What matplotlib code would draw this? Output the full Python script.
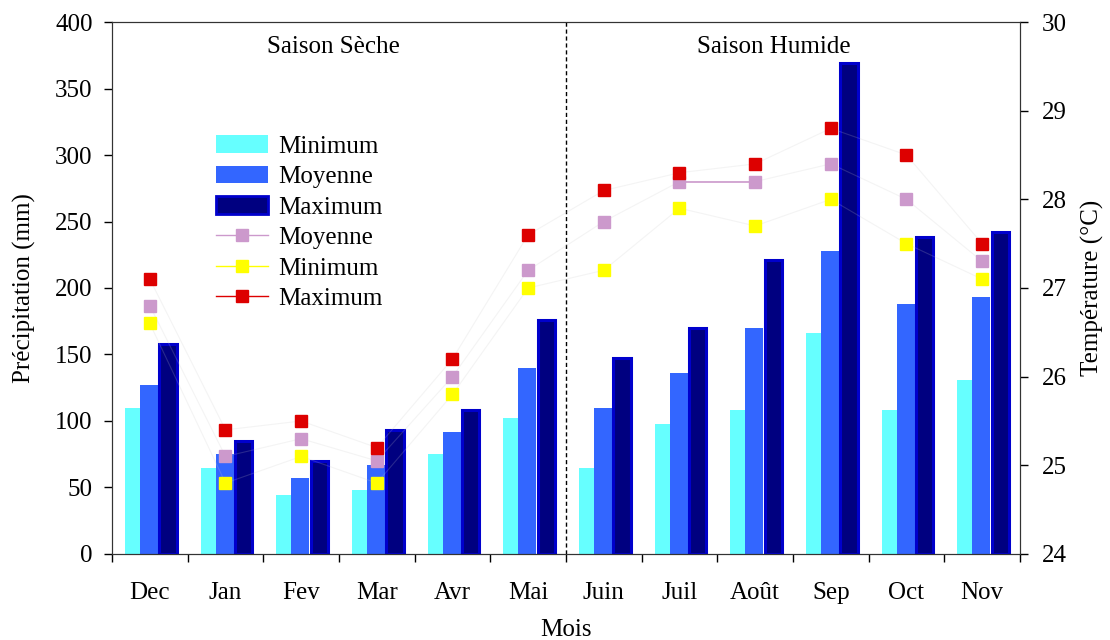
"""Précipitations et températures mensuelles (min / moy / max)."""
import matplotlib
matplotlib.use('Agg')
import matplotlib.pyplot as plt
from matplotlib.patches import Patch
from matplotlib.lines import Line2D

plt.rcParams['font.family'] = ['Liberation Serif', 'DejaVu Serif']

MOIS = ['Dec', 'Jan', 'Fev', 'Mar', 'Avr', 'Mai',
        'Juin', 'Juil', 'Août', 'Sep', 'Oct', 'Nov']

# précipitations (mm)
pluie_min = [110, 65, 44, 48, 75, 102, 65, 98, 108, 166, 108, 131]
pluie_moy = [127, 75, 57, 67, 92, 140, 110, 136, 170, 228, 188, 193]
pluie_max = [158, 85, 70, 93, 108, 176, 147, 170, 221, 369, 238, 242]

# températures (°C)
temp_moy = [26.8, 25.1, 25.3, 25.05, 26.0, 27.2, 27.75, 28.2, 28.2, 28.4, 28.0, 27.3]
temp_min = [26.6, 24.8, 25.1, 24.8, 25.8, 27.0, 27.2, 27.9, 27.7, 28.0, 27.5, 27.1]
temp_max = [27.1, 25.4, 25.5, 25.2, 26.2, 27.6, 28.1, 28.3, 28.4, 28.8, 28.5, 27.5]

C_MIN = '#66FFFF'
C_MOY = '#3366FF'
C_MAX = '#000080'
C_MAX_EDGE = '#0000CC'
T_MOY = '#CC99CC'
T_MIN = '#FFFF00'
T_MAX = '#DD0000'
FS = 18

fig = plt.figure(figsize=(11.1, 6.4), dpi=100)
ax = fig.add_axes([0.1009, 0.1344, 0.8180, 0.8312])
x = list(range(len(MOIS)))

ax.bar([i - 0.33 for i in x], pluie_min, width=0.20, align='edge',
       color=C_MIN, lw=0, zorder=2)
ax.bar([i - 0.13 for i in x], pluie_moy, width=0.24, align='edge',
       color=C_MOY, lw=0, zorder=2)
ax.bar([i + 0.125 for i in x], pluie_max, width=0.23, align='edge',
       color=C_MAX, edgecolor=C_MAX_EDGE, lw=2.2, zorder=2)

ax.set_xlim(-0.5, len(MOIS) - 0.5)
ax.set_ylim(0, 400)
ax.set_yticks(range(0, 401, 50))
ax.set_xticks([i + 0.5 for i in range(-1, len(MOIS))])
ax.set_xticklabels([])
ax.set_xticks(x, minor=True)
ax.set_xticklabels(MOIS, minor=True)
ax.tick_params(axis='x', which='major', direction='out', length=6, width=1)
ax.tick_params(axis='x', which='minor', length=0, pad=20, labelsize=FS)
ax.tick_params(axis='y', direction='out', length=6, width=1, pad=8,
               labelsize=FS)
ax.set_ylabel('Précipitation (mm)', fontsize=FS, labelpad=14)
ax.set_xlabel('Mois', fontsize=FS, labelpad=11)
for s in ax.spines.values():
    s.set_color('#333333')

ax.axvline(5.5, color='black', ls=(0, (3, 2)), lw=1, zorder=3)
trans = ax.get_xaxis_transform()
ax.text(2.42, 0.953, 'Saison Sèche', transform=trans, ha='center',
        va='center', fontsize=FS)
ax.text(8.25, 0.953, 'Saison Humide', transform=trans, ha='center',
        va='center', fontsize=FS)

ax2 = ax.twinx()
ax2.set_ylim(24, 30)
ax2.set_yticks(range(24, 31))
ax2.tick_params(axis='y', direction='out', length=6, width=1, pad=10,
                labelsize=FS)
ax2.set_ylabel('Température (°C)', fontsize=FS, labelpad=10)
for s in ax2.spines.values():
    s.set_color('#333333')

# lignes reliant les marqueurs : presque invisibles
for serie in (temp_moy, temp_min, temp_max):
    ax2.plot(x, serie, color='#c8c8c8', alpha=0.2, lw=0.8, zorder=1)
ax2.plot(x[7:9], temp_moy[7:9], color=T_MOY, lw=1.2, zorder=2)
for serie, c in ((temp_moy, T_MOY), (temp_min, T_MIN), (temp_max, T_MAX)):
    ax2.plot(x, serie, ls='none', marker='s', ms=8, mfc=c, mec=c, zorder=4)

handles = [
    Patch(facecolor=C_MIN, lw=0),
    Patch(facecolor=C_MOY, lw=0),
    Patch(facecolor=C_MAX, edgecolor=C_MAX_EDGE, lw=2),
    Line2D([], [], color=T_MOY, marker='s', ms=8, lw=1),
    Line2D([], [], color=T_MIN, marker='s', ms=8, lw=1),
    Line2D([], [], color=T_MAX, marker='s', ms=8, lw=1),
]
labels = ['Minimum', 'Moyenne', 'Maximum', 'Moyenne', 'Minimum', 'Maximum']
ax2.legend(handles, labels, loc='upper left', bbox_to_anchor=(0.103, 0.806),
           frameon=False, fontsize=FS, handlelength=2.1, handleheight=0.7,
           labelspacing=0.32, handletextpad=0.4, borderaxespad=0)

fig.savefig('out.png', dpi=100)
